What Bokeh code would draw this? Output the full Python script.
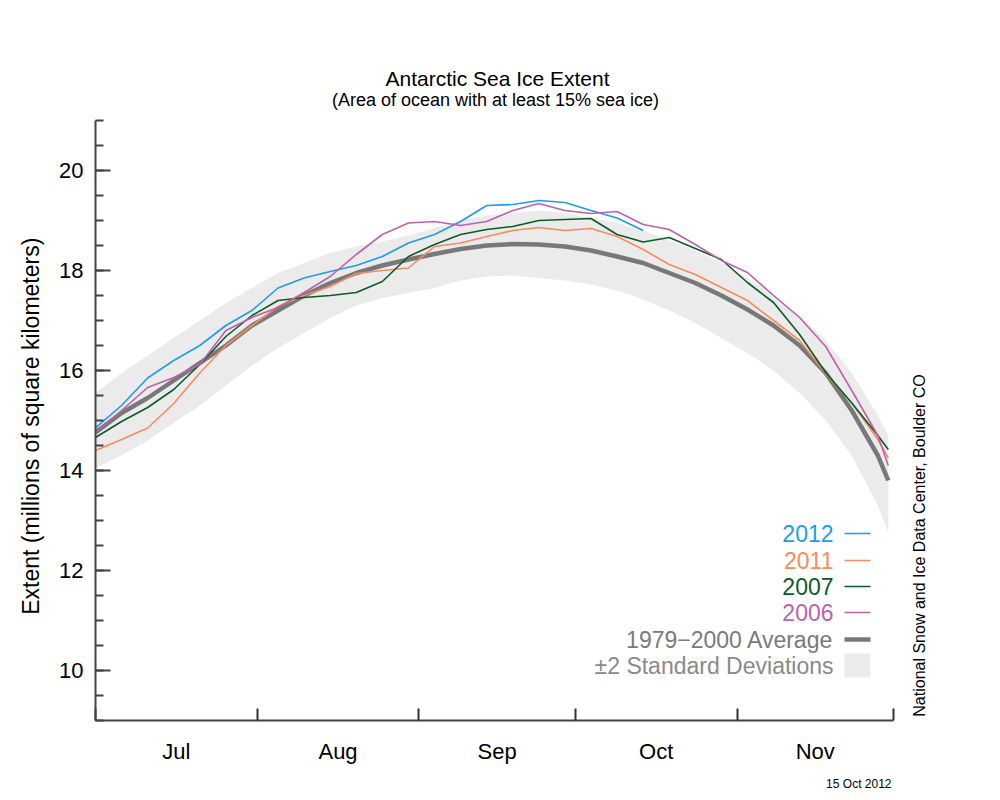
import math
from bokeh.plotting import figure
from bokeh.models import FixedTicker, Range1d, Title, Label
from bokeh.embed import file_html
from bokeh.resources import INLINE

# ---- data (days since 1 July) ----
days = [0, 5, 10, 15, 20, 25, 30, 35, 40, 45, 50, 55, 60, 65, 70, 75, 80, 85,
        90, 95, 100, 105, 110, 115, 120, 125, 130, 135, 140, 145, 150, 152]

avg_1979_2000 = [14.76, 15.15, 15.45, 15.8, 16.15, 16.5, 16.9, 17.2, 17.5, 17.75,
                 17.95, 18.1, 18.22, 18.33, 18.43, 18.5, 18.53, 18.52, 18.48, 18.4,
                 18.28, 18.15, 17.95, 17.75, 17.5, 17.22, 16.9, 16.5, 15.95, 15.2,
                 14.3, 13.8]
band_upper = [15.55, 15.95, 16.3, 16.65, 17.0, 17.35, 17.65, 17.95, 18.15, 18.35,
              18.48, 18.58, 18.7, 18.85, 19.0, 19.1, 19.15, 19.2, 19.15, 19.05,
              18.95, 18.8, 18.6, 18.4, 18.15, 17.85, 17.5, 17.1, 16.6, 15.95,
              15.1, 14.7]
band_lower = [14.05, 14.3, 14.6, 14.95, 15.3, 15.7, 16.1, 16.45, 16.75, 17.05,
              17.3, 17.45, 17.55, 17.65, 17.8, 17.88, 17.9, 17.85, 17.8, 17.72,
              17.6, 17.42, 17.2, 16.95, 16.65, 16.35, 16.0, 15.55, 15.0, 14.3,
              13.3, 12.75]

y2012 = [14.85, 15.3, 15.85, 16.2, 16.5, 16.9, 17.2, 17.65, 17.85, 17.98, 18.1,
         18.28, 18.55, 18.72, 18.98, 19.3, 19.32, 19.4, 19.36, 19.2, 19.05, 18.8]
y2011 = [14.4, 14.62, 14.85, 15.34, 15.95, 16.5, 16.9, 17.28, 17.5, 17.68, 17.94,
         18.0, 18.05, 18.48, 18.55, 18.68, 18.8, 18.86, 18.8, 18.84, 18.68, 18.42,
         18.12, 17.92, 17.66, 17.4, 17.0, 16.6, 15.94, 15.35, 14.62, 14.25]
y2007 = [14.66, 14.98, 15.26, 15.62, 16.12, 16.68, 17.1, 17.4, 17.46, 17.5, 17.56,
         17.78, 18.28, 18.52, 18.72, 18.82, 18.88, 19.0, 19.02, 19.04, 18.72, 18.57,
         18.66, 18.44, 18.22, 17.76, 17.36, 16.72, 15.96, 15.35, 14.7, 14.42]
y2006 = [14.76, 15.2, 15.66, 15.86, 16.12, 16.8, 17.06, 17.26, 17.56, 17.88, 18.32,
         18.72, 18.95, 18.98, 18.9, 18.98, 19.2, 19.34, 19.2, 19.14, 19.18, 18.92,
         18.82, 18.52, 18.2, 17.96, 17.5, 17.06, 16.48, 15.6, 14.7, 14.1]

month_names = ["Jul", "Aug", "Sep", "Oct", "Nov"]
month_starts = [0, 31, 62, 92, 123, 153]
y_ticks = [10, 12, 14, 16, 18, 20]

series_names = ["2012", "2011", "2007", "2006"]
series_colors = ["#1E9BEA", "#F68C5E", "#0B5A28", "#BD60AE"]
series_values = [y2012, y2011, y2007, y2006]

AVG_COLOR = "#787878"
BAND_COLOR = "#EBEBEB"
FONT = "Liberation Sans"

# ---- layout ----
W, H = 1000, 800
AX_L, AX_R, AX_T, AX_B = 95, 893, 120, 720      # where the axes sit
FR_R, FR_T = 990, 10                              # frame extends for texts
X0, X1 = 0, 153
Y0, Y1 = 9, 21
PX_PER_X = (AX_R - AX_L) / (X1 - X0)
PX_PER_Y = (AX_B - AX_T) / (Y1 - Y0)

def sx(px):
    return X0 + (px - AX_L) / PX_PER_X

def sy(py):
    return Y0 + (AX_B - py) / PX_PER_Y

p = figure(width=W, height=H, output_backend="svg", toolbar_location=None,
           x_range=Range1d(X0, sx(FR_R)), y_range=Range1d(Y0, sy(FR_T)),
           min_border_left=AX_L, min_border_right=W - FR_R,
           min_border_top=FR_T, min_border_bottom=H - AX_B)
p.outline_line_color = None
p.grid.visible = False
p.background_fill_color = "white"
p.border_fill_color = "white"

# band and lines
p.varea(x=days, y1=band_lower, y2=band_upper, color=BAND_COLOR)
p.line(days, avg_1979_2000, line_color=AVG_COLOR, line_width=4.5)
for name, col, vals in zip(series_names, series_colors, series_values):
    p.line(days[:len(vals)], vals, line_color=col, line_width=1.6)

# axes
xa = p.xaxis[0]
mids = [(month_starts[i] + month_starts[i + 1]) / 2 for i in range(5)]
xa.bounds = (X0, X1)
xa.ticker = FixedTicker(ticks=mids, minor_ticks=month_starts)
xa.major_label_overrides = {m: n for m, n in zip(mids, month_names)}
xa.major_tick_in = 0
xa.major_tick_out = 0
xa.minor_tick_in = 12
xa.minor_tick_out = 0
xa.minor_tick_line_color = "#333333"
xa.minor_tick_line_width = 2
xa.axis_line_color = "#444444"
xa.axis_line_width = 2
xa.major_label_text_font = FONT
xa.major_label_text_font_size = "22px"
xa.major_label_text_color = "black"
xa.major_label_standoff = 18

ya = p.yaxis[0]
ya.bounds = (Y0, Y1)
ya.ticker = FixedTicker(ticks=y_ticks, minor_ticks=[9 + 0.5 * i for i in range(25)])
ya.major_tick_in = 15
ya.major_tick_out = 0
ya.minor_tick_in = 8
ya.minor_tick_out = 0
ya.major_tick_line_color = "#444444"
ya.minor_tick_line_color = "#444444"
ya.major_tick_line_width = 2
ya.minor_tick_line_width = 2
ya.axis_line_color = "#444444"
ya.axis_line_width = 2
ya.major_label_text_font = FONT
ya.major_label_text_font_size = "22px"
ya.major_label_text_color = "black"
ya.major_label_standoff = 12
# trailing no-break spaces keep the label centred on the axis span, not the frame
ya.axis_label = "Extent (millions of square kilometers)" + "\u00a0" * 19
ya.axis_label_text_font = FONT
ya.axis_label_text_font_size = "23px"
ya.axis_label_text_font_style = "normal"
ya.axis_label_text_color = "black"
ya.axis_label_standoff = 12

# titles and credit (inside the extended frame)
p.add_layout(Label(x=sx(497), y=sy(78), text="Antarctic Sea Ice Extent",
                   text_font=FONT, text_font_size="21px", text_align="center",
                   text_baseline="middle", text_color="black"))
p.add_layout(Label(x=sx(495), y=sy(99), text="(Area of ocean with at least 15% sea ice)",
                   text_font=FONT, text_font_size="18px", text_align="center",
                   text_baseline="middle", text_color="black"))
p.add_layout(Label(x=sx(919), y=sy(545), text="National Snow and Ice Data Center, Boulder CO",
                   angle=math.pi / 2, text_font=FONT, text_font_size="16px",
                   text_align="center", text_baseline="middle", text_color="black"))
p.add_layout(Title(text="15 Oct 2012", align="right", text_font=FONT,
                   text_font_size="12px", text_font_style="normal",
                   text_color="black", standoff=16,
                   offset=FR_R - AX_R + 2), "below")

# legend
rows_py = [533, 560, 586, 612, 639, 665]
legend_texts = series_names + ["1979\u22122000 Average", "\u00b12 Standard Deviations"]
legend_colors = series_colors + ["#7A7A7A", "#8A8A8A"]
for t, c, py in zip(legend_texts, legend_colors, rows_py):
    p.add_layout(Label(x=sx(833), y=sy(py), text=t, text_font=FONT,
                       text_font_size="23px", text_align="right",
                       text_baseline="middle", text_color=c))
for c, py in zip(series_colors, rows_py[:4]):
    p.segment(x0=[sx(844)], y0=[sy(py)], x1=[sx(870)], y1=[sy(py)],
              line_color=c, line_width=1.6)
p.segment(x0=[sx(844)], y0=[sy(639)], x1=[sx(870)], y1=[sy(639)],
          line_color=AVG_COLOR, line_width=4.5)
p.quad(left=[sx(844)], right=[sx(870)], top=[sy(653)], bottom=[sy(677)],
       fill_color=BAND_COLOR, line_color=None)

open("out.html", "w").write(file_html(p, INLINE))
